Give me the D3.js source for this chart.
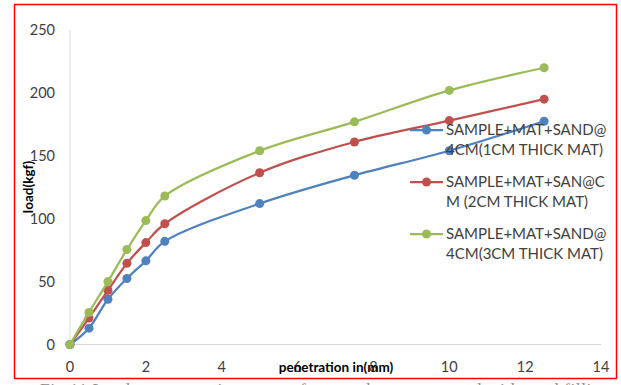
<!DOCTYPE html>
<html>
<head>
<meta charset="utf-8">
<script src="https://cdn.jsdelivr.net/npm/d3@7"></script>
<style>
  html, body { margin: 0; padding: 0; background: #fff; }
  svg { display: block; }
</style>
</head>
<body>
<svg id="chart" width="621" height="385"></svg>
<script>
// ---- data ----
const penetration = [0, 0.5, 1, 1.5, 2, 2.5, 5, 7.5, 10, 12.5];
const load1cm = [0, 13, 36, 52.5, 66.5, 82, 112, 134.5, 154, 177.5];
const load2cm = [0, 21, 43, 64.5, 81, 96, 136.5, 161, 178, 195];
const load3cm = [0, 25.5, 50, 75.5, 98.5, 118, 154, 177, 202, 220];
const seriesNames = [
  ["SAMPLE+MAT+SAND@", "4CM(1CM THICK MAT)"],
  ["SAMPLE+MAT+SAN@C", "M (2CM THICK MAT)"],
  ["SAMPLE+MAT+SAND@", "4CM(3CM THICK MAT)"]
];
const seriesColors = ["#4f81bd", "#c0504d", "#9bbb59"];
const xTicks = [0, 2, 4, 6, 8, 10, 12, 14];
const yTicks = [0, 50, 100, 150, 200, 250];
const xTitle = "penetration in(mm)";
const yTitle = "load(kgf)";
const caption = "Fig 11 Load vs penetration curves for sample + mat + sand with sand filling";

const allSeries = [load1cm, load2cm, load3cm].map((vals, i) => ({
  name: seriesNames[i], color: seriesColors[i],
  points: penetration.map((p, j) => [p, vals[j]])
}));

const svg = d3.select("#chart");
const font = "Lato, 'Open Sans', sans-serif";

// border
svg.append("rect").attr("x", 14.5).attr("y", 4.5).attr("width", 602).attr("height", 374)
  .attr("fill", "none").attr("stroke", "#ff0000").attr("stroke-width", 1.5);

// caption (cut off by bottom)
svg.append("text").attr("x", 40).attr("y", 395)
  .attr("font-family", "'Liberation Serif', 'Times New Roman', serif")
  .attr("font-size", 17.5).attr("fill", "#8c8c8c").attr("textLength", 570)
  .text(caption);

const x = d3.scaleLinear().domain([0, 14]).range([70, 601]);
const y = d3.scaleLinear().domain([0, 250]).range([344.5, 30]);

// axes lines
svg.append("line").attr("x1", x(0)).attr("x2", x(14)).attr("y1", y(0)).attr("y2", y(0))
  .attr("stroke", "#d9d9d9").attr("stroke-width", 1);
svg.append("line").attr("x1", x(0)).attr("x2", x(0)).attr("y1", y(0)).attr("y2", y(250))
  .attr("stroke", "#d9d9d9").attr("stroke-width", 1);

// tick labels
svg.selectAll(".xt").data(xTicks).enter().append("text")
  .attr("x", d => x(d)).attr("y", 372).attr("text-anchor", "middle")
  .attr("font-family", font).attr("font-size", 14.5).attr("fill", "#404040")
  .text(d => d);
svg.selectAll(".yt").data(yTicks).enter().append("text")
  .attr("x", 55).attr("y", d => y(d) + 5).attr("text-anchor", "end")
  .attr("font-family", font).attr("font-size", 14.5).attr("fill", "#404040")
  .text(d => d);

// series
const line = d3.line().x(d => x(d[0])).y(d => y(d[1])).curve(d3.curveCatmullRom.alpha(0.5));
allSeries.forEach(s => {
  svg.append("path").attr("d", line(s.points)).attr("fill", "none")
    .attr("stroke", s.color).attr("stroke-width", 2.25);
  svg.selectAll(null).data(s.points).enter().append("circle")
    .attr("cx", d => x(d[0])).attr("cy", d => y(d[1])).attr("r", 4.5)
    .attr("fill", s.color);
});

// axis titles
svg.append("text").attr("x", 336).attr("y", 372).attr("text-anchor", "middle")
  .attr("font-family", font).attr("font-size", 13.5).attr("font-weight", "bold").attr("fill", "#000")
  .text(xTitle);
svg.append("text").attr("transform", "translate(33,187) rotate(-90)").attr("text-anchor", "middle")
  .attr("font-family", font).attr("font-size", 13.5).attr("font-weight", "bold").attr("fill", "#000")
  .text(yTitle);

// legend
const legendTop = [130, 182, 234];
allSeries.forEach((s, i) => {
  const g = svg.append("g");
  const cy = legendTop[i];
  g.append("line").attr("x1", 410).attr("x2", 443).attr("y1", cy).attr("y2", cy)
    .attr("stroke", s.color).attr("stroke-width", 2.25);
  g.append("circle").attr("cx", 426.5).attr("cy", cy).attr("r", 4.5).attr("fill", s.color);
  s.name.forEach((t, k) => {
    g.append("text").attr("x", 446).attr("y", cy + 5 + k * 20)
      .attr("font-family", font).attr("font-size", 15).attr("fill", "#404040")
      .text(t);
  });
});
</script>
</body>
</html>
